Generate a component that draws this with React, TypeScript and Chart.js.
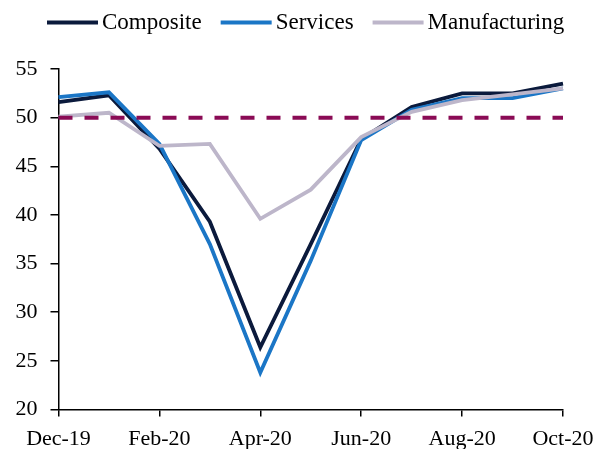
import React, { useEffect, useRef } from "react";
import { Chart, registerables } from "chart.js";

Chart.register(...registerables);

const months = [
  "Dec-19", "Jan-20", "Feb-20", "Mar-20", "Apr-20", "May-20",
  "Jun-20", "Jul-20", "Aug-20", "Sep-20", "Oct-20",
];
const tickLabels = ["Dec-19", "Feb-20", "Apr-20", "Jun-20", "Aug-20", "Oct-20"];
const composite = [51.6, 52.3, 46.8, 39.3, 26.4, 37.0, 47.8, 51.1, 52.5, 52.5, 53.5];
const services = [52.1, 52.6, 47.3, 37.0, 23.8, 35.3, 47.7, 50.8, 52.0, 52.0, 53.0];
const manufacturing = [50.1, 50.5, 47.1, 47.3, 39.6, 42.6, 48.0, 50.6, 51.8, 52.4, 53.0];
const threshold = [50, 50, 50, 50, 50, 50, 50, 50, 50, 50, 50];
const yTicks = [20, 25, 30, 35, 40, 45, 50, 55];

const FONT = "'Liberation Serif', 'Times New Roman', serif";

const legendPlugin = {
  id: "lineLegend",
  afterDraw(chart: any) {
    const ctx = chart.ctx;
    ctx.save();
    ctx.font = `23px ${FONT}`;
    ctx.textBaseline = "alphabetic";
    let x = 47;
    chart.data.datasets.forEach((ds: any) => {
      if (ds.hideInLegend) return;
      ctx.strokeStyle = ds.borderColor;
      ctx.lineWidth = 4;
      ctx.beginPath();
      ctx.moveTo(x, 22.5);
      ctx.lineTo(x + 51, 22.5);
      ctx.stroke();
      ctx.fillStyle = "#000";
      ctx.fillText(ds.label, x + 55, 28.5);
      x += 55 + ctx.measureText(ds.label).width + 19;
    });
    ctx.restore();
  },
};

export default function App() {
  const ref = useRef<HTMLCanvasElement | null>(null);

  useEffect(() => {
    if (!ref.current) return;
    const chart = new Chart(ref.current, {
      type: "line",
      data: {
        labels: months,
        datasets: [
          {
            label: "Composite",
            data: composite,
            borderColor: "#0b1a3c",
            backgroundColor: "#0b1a3c",
            borderWidth: 3.8,
            pointRadius: 0,
            tension: 0,
            order: 4,
          },
          {
            label: "Services",
            data: services,
            borderColor: "#1b76c6",
            backgroundColor: "#1b76c6",
            borderWidth: 3.8,
            pointRadius: 0,
            tension: 0,
            order: 3,
          },
          {
            label: "Manufacturing",
            data: manufacturing,
            borderColor: "#bdb6ca",
            backgroundColor: "#bdb6ca",
            borderWidth: 3.8,
            pointRadius: 0,
            tension: 0,
            order: 2,
          },
          {
            label: "50",
            data: threshold,
            borderColor: "#8a0b55",
            backgroundColor: "#8a0b55",
            borderWidth: 4,
            borderDash: [14, 12],
            pointRadius: 0,
            tension: 0,
            order: 1,
            hideInLegend: true,
          } as any,
        ],
      },
      options: {
        animation: false,
        responsive: true,
        maintainAspectRatio: false,
        layout: { padding: { top: 69, right: 42, left: 0, bottom: 0 } },
        plugins: {
          legend: { display: false },
          tooltip: { enabled: false },
        },
        scales: {
          x: {
            type: "category",
            grid: {
              display: true,
              drawOnChartArea: false,
              drawTicks: true,
              tickLength: 7,
              color: "#000",
              lineWidth: 1.5,
            },
            border: { display: true, color: "#000", width: 1.5 },
            ticks: {
              autoSkip: false,
              maxRotation: 0,
              padding: 10,
              color: "#000",
              font: { family: FONT, size: 22 },
              callback: (_v: any, i: number) =>
                tickLabels.includes(months[i]) ? months[i] : null,
            },
            afterFit: (scale: any) => {
              scale.height = 39.5;
            },
          },
          y: {
            min: 20,
            max: 55,
            afterBuildTicks: (scale: any) => {
              scale.ticks = yTicks.map((v) => ({ value: v }));
            },
            grid: {
              display: true,
              drawOnChartArea: false,
              drawTicks: true,
              tickLength: 8,
              color: "#000",
              lineWidth: 1.5,
            },
            border: { display: true, color: "#000", width: 1.5 },
            ticks: {
              padding: 13,
              color: "#000",
              font: { family: FONT, size: 22 },
            },
            afterFit: (scale: any) => {
              scale.width = 58.5;
            },
          },
        },
      },
      plugins: [legendPlugin],
    });
    return () => chart.destroy();
  }, []);

  return (
    <div
      style={{
        position: "fixed",
        left: 0,
        top: 0,
        width: 605,
        height: 449,
        background: "#fff",
      }}
    >
      <canvas ref={ref} />
    </div>
  );
}
